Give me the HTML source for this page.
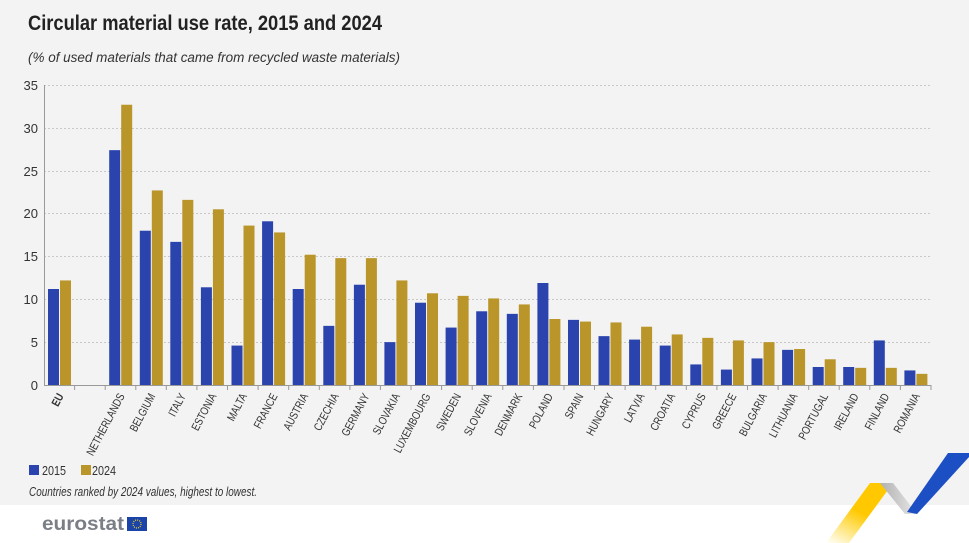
<!DOCTYPE html>
<html><head><meta charset="utf-8"><style>
body{margin:0;background:#fff;}
svg{display:block;}
text{font-family:"Liberation Sans Narrow","Liberation Sans",sans-serif;}
</style></head><body>
<svg width="969" height="543" viewBox="0 0 969 543" xmlns="http://www.w3.org/2000/svg">
<rect x="0" y="0" width="969" height="505" fill="#f3f3f3"/>
<text x="28" y="30" font-size="21" font-weight="bold" fill="#222" textLength="354" lengthAdjust="spacingAndGlyphs">Circular material use rate, 2015 and 2024</text>
<text x="28" y="62" font-size="13.5" font-style="italic" fill="#333" textLength="372" lengthAdjust="spacingAndGlyphs">(% of used materials that came from recycled waste materials)</text>
<g stroke="#c8c8c8" stroke-dasharray="2,2" stroke-width="1">
<line x1="44" x2="931" y1="85.5" y2="85.5"/><line x1="44" x2="931" y1="128.5" y2="128.5"/><line x1="44" x2="931" y1="171.5" y2="171.5"/><line x1="44" x2="931" y1="213.5" y2="213.5"/><line x1="44" x2="931" y1="256.5" y2="256.5"/><line x1="44" x2="931" y1="299.5" y2="299.5"/><line x1="44" x2="931" y1="342.5" y2="342.5"/>
</g>
<g font-size="13" fill="#333" text-anchor="end">
<text x="38" y="90">35</text><text x="38" y="133">30</text><text x="38" y="176">25</text><text x="38" y="218">20</text><text x="38" y="261">15</text><text x="38" y="304">10</text><text x="38" y="347">5</text><text x="38" y="390">0</text>
</g>
<line x1="44.5" y1="85" x2="44.5" y2="385" stroke="#999"/>
<g transform="translate(0,385) scale(1,-8.571)">
<g fill="#2a43ad">
<rect x="48" y="0" width="11" height="11.2"/>
<rect x="109.2" y="0" width="11" height="27.4"/>
<rect x="139.8" y="0" width="11" height="18.0"/>
<rect x="170.3" y="0" width="11" height="16.7"/>
<rect x="200.9" y="0" width="11" height="11.4"/>
<rect x="231.5" y="0" width="11" height="4.6"/>
<rect x="262.1" y="0" width="11" height="19.1"/>
<rect x="292.7" y="0" width="11" height="11.2"/>
<rect x="323.3" y="0" width="11" height="6.9"/>
<rect x="353.9" y="0" width="11" height="11.7"/>
<rect x="384.4" y="0" width="11" height="5.0"/>
<rect x="415" y="0" width="11" height="9.6"/>
<rect x="445.6" y="0" width="11" height="6.7"/>
<rect x="476.2" y="0" width="11" height="8.6"/>
<rect x="506.8" y="0" width="11" height="8.3"/>
<rect x="537.4" y="0" width="11" height="11.9"/>
<rect x="568" y="0" width="11" height="7.6"/>
<rect x="598.5" y="0" width="11" height="5.7"/>
<rect x="629.1" y="0" width="11" height="5.3"/>
<rect x="659.7" y="0" width="11" height="4.6"/>
<rect x="690.3" y="0" width="11" height="2.4"/>
<rect x="720.9" y="0" width="11" height="1.8"/>
<rect x="751.5" y="0" width="11" height="3.1"/>
<rect x="782.1" y="0" width="11" height="4.1"/>
<rect x="812.7" y="0" width="11" height="2.1"/>
<rect x="843.2" y="0" width="11" height="2.1"/>
<rect x="873.8" y="0" width="11" height="5.2"/>
<rect x="904.4" y="0" width="11" height="1.7"/>
</g>
<g fill="#b9952a">
<rect x="60" y="0" width="11" height="12.2"/>
<rect x="121.2" y="0" width="11" height="32.7"/>
<rect x="151.8" y="0" width="11" height="22.7"/>
<rect x="182.3" y="0" width="11" height="21.6"/>
<rect x="212.9" y="0" width="11" height="20.5"/>
<rect x="243.5" y="0" width="11" height="18.6"/>
<rect x="274.1" y="0" width="11" height="17.8"/>
<rect x="304.7" y="0" width="11" height="15.2"/>
<rect x="335.3" y="0" width="11" height="14.8"/>
<rect x="365.9" y="0" width="11" height="14.8"/>
<rect x="396.4" y="0" width="11" height="12.2"/>
<rect x="427" y="0" width="11" height="10.7"/>
<rect x="457.6" y="0" width="11" height="10.4"/>
<rect x="488.2" y="0" width="11" height="10.1"/>
<rect x="518.8" y="0" width="11" height="9.4"/>
<rect x="549.4" y="0" width="11" height="7.7"/>
<rect x="580" y="0" width="11" height="7.4"/>
<rect x="610.5" y="0" width="11" height="7.3"/>
<rect x="641.1" y="0" width="11" height="6.8"/>
<rect x="671.7" y="0" width="11" height="5.9"/>
<rect x="702.3" y="0" width="11" height="5.5"/>
<rect x="732.9" y="0" width="11" height="5.2"/>
<rect x="763.5" y="0" width="11" height="5.0"/>
<rect x="794.1" y="0" width="11" height="4.2"/>
<rect x="824.7" y="0" width="11" height="3.0"/>
<rect x="855.2" y="0" width="11" height="2.0"/>
<rect x="885.8" y="0" width="11" height="2.0"/>
<rect x="916.4" y="0" width="11" height="1.3"/>
</g>
</g>
<line x1="44" y1="385.5" x2="931" y2="385.5" stroke="#999"/>
<g stroke="#999">
<line x1="74.6" y1="385" x2="74.6" y2="390"/><line x1="105.2" y1="385" x2="105.2" y2="390"/><line x1="135.8" y1="385" x2="135.8" y2="390"/><line x1="166.3" y1="385" x2="166.3" y2="390"/><line x1="196.9" y1="385" x2="196.9" y2="390"/><line x1="227.5" y1="385" x2="227.5" y2="390"/><line x1="258.1" y1="385" x2="258.1" y2="390"/><line x1="288.7" y1="385" x2="288.7" y2="390"/><line x1="319.3" y1="385" x2="319.3" y2="390"/><line x1="349.9" y1="385" x2="349.9" y2="390"/><line x1="380.4" y1="385" x2="380.4" y2="390"/><line x1="411" y1="385" x2="411" y2="390"/><line x1="441.6" y1="385" x2="441.6" y2="390"/><line x1="472.2" y1="385" x2="472.2" y2="390"/><line x1="502.8" y1="385" x2="502.8" y2="390"/><line x1="533.4" y1="385" x2="533.4" y2="390"/><line x1="564" y1="385" x2="564" y2="390"/><line x1="594.5" y1="385" x2="594.5" y2="390"/><line x1="625.1" y1="385" x2="625.1" y2="390"/><line x1="655.7" y1="385" x2="655.7" y2="390"/><line x1="686.3" y1="385" x2="686.3" y2="390"/><line x1="716.9" y1="385" x2="716.9" y2="390"/><line x1="747.5" y1="385" x2="747.5" y2="390"/><line x1="778.1" y1="385" x2="778.1" y2="390"/><line x1="808.7" y1="385" x2="808.7" y2="390"/><line x1="839.2" y1="385" x2="839.2" y2="390"/><line x1="869.8" y1="385" x2="869.8" y2="390"/><line x1="900.4" y1="385" x2="900.4" y2="390"/><line x1="931" y1="385" x2="931" y2="390"/>
</g>
<g font-size="11.5" fill="#333" text-anchor="end">
<text transform="translate(64,396) rotate(-62) scale(0.8,1)" font-weight="bold">EU</text>
<text transform="translate(125,396) rotate(-62) scale(0.8,1)">NETHERLANDS</text>
<text transform="translate(155.6,396) rotate(-62) scale(0.8,1)">BELGIUM</text>
<text transform="translate(186.1,396) rotate(-62) scale(0.8,1)">ITALY</text>
<text transform="translate(216.7,396) rotate(-62) scale(0.8,1)">ESTONIA</text>
<text transform="translate(247.3,396) rotate(-62) scale(0.8,1)">MALTA</text>
<text transform="translate(277.9,396) rotate(-62) scale(0.8,1)">FRANCE</text>
<text transform="translate(308.5,396) rotate(-62) scale(0.8,1)">AUSTRIA</text>
<text transform="translate(339.1,396) rotate(-62) scale(0.8,1)">CZECHIA</text>
<text transform="translate(369.7,396) rotate(-62) scale(0.8,1)">GERMANY</text>
<text transform="translate(400.2,396) rotate(-62) scale(0.8,1)">SLOVAKIA</text>
<text transform="translate(430.8,396) rotate(-62) scale(0.8,1)">LUXEMBOURG</text>
<text transform="translate(461.4,396) rotate(-62) scale(0.8,1)">SWEDEN</text>
<text transform="translate(492,396) rotate(-62) scale(0.8,1)">SLOVENIA</text>
<text transform="translate(522.6,396) rotate(-62) scale(0.8,1)">DENMARK</text>
<text transform="translate(553.2,396) rotate(-62) scale(0.8,1)">POLAND</text>
<text transform="translate(583.8,396) rotate(-62) scale(0.8,1)">SPAIN</text>
<text transform="translate(614.3,396) rotate(-62) scale(0.8,1)">HUNGARY</text>
<text transform="translate(644.9,396) rotate(-62) scale(0.8,1)">LATVIA</text>
<text transform="translate(675.5,396) rotate(-62) scale(0.8,1)">CROATIA</text>
<text transform="translate(706.1,396) rotate(-62) scale(0.8,1)">CYPRUS</text>
<text transform="translate(736.7,396) rotate(-62) scale(0.8,1)">GREECE</text>
<text transform="translate(767.3,396) rotate(-62) scale(0.8,1)">BULGARIA</text>
<text transform="translate(797.9,396) rotate(-62) scale(0.8,1)">LITHUANIA</text>
<text transform="translate(828.5,396) rotate(-62) scale(0.8,1)">PORTUGAL</text>
<text transform="translate(859,396) rotate(-62) scale(0.8,1)">IRELAND</text>
<text transform="translate(889.6,396) rotate(-62) scale(0.8,1)">FINLAND</text>
<text transform="translate(920.2,396) rotate(-62) scale(0.8,1)">ROMANIA</text>
</g>
<rect x="29" y="465" width="10" height="10" fill="#2a43ad"/>
<text x="42" y="475" font-size="13" fill="#333" textLength="24" lengthAdjust="spacingAndGlyphs">2015</text>
<rect x="81" y="465" width="10" height="10" fill="#b9952a"/>
<text x="92" y="475" font-size="13" fill="#333" textLength="24" lengthAdjust="spacingAndGlyphs">2024</text>
<text x="29" y="496" font-size="12.5" font-style="italic" fill="#333" textLength="228" lengthAdjust="spacingAndGlyphs">Countries ranked by 2024 values, highest to lowest.</text>
<text x="42" y="530" font-size="19" font-weight="bold" fill="#7a7f87" font-family="Liberation Sans, sans-serif" textLength="82" lengthAdjust="spacingAndGlyphs">eurostat</text>
<rect x="127" y="517" width="20" height="14" fill="#1a44a8"/>
<circle cx="137" cy="524" r="4" fill="none" stroke="#f7d417" stroke-width="1.2" stroke-dasharray="1,1.1"/>
<defs>
<linearGradient id="gy" x1="0" y1="1" x2="0.6" y2="0"><stop offset="0" stop-color="#ffd200" stop-opacity="0"/><stop offset="0.6" stop-color="#ffc800"/></linearGradient>
<linearGradient id="gg" x1="0" y1="0" x2="1" y2="0"><stop offset="0" stop-color="#b0b0b0"/><stop offset="1" stop-color="#e8e8e8"/></linearGradient>
</defs>
<polygon points="826,543 870,483 893,483 849,543" fill="url(#gy)"/>
<polygon points="880,483 893,483 917,514 905,514" fill="url(#gg)"/>
<polygon points="907,512 948,453 969,453 969,457 917,514" fill="#1d4fc4"/>
</svg>
</body></html>
